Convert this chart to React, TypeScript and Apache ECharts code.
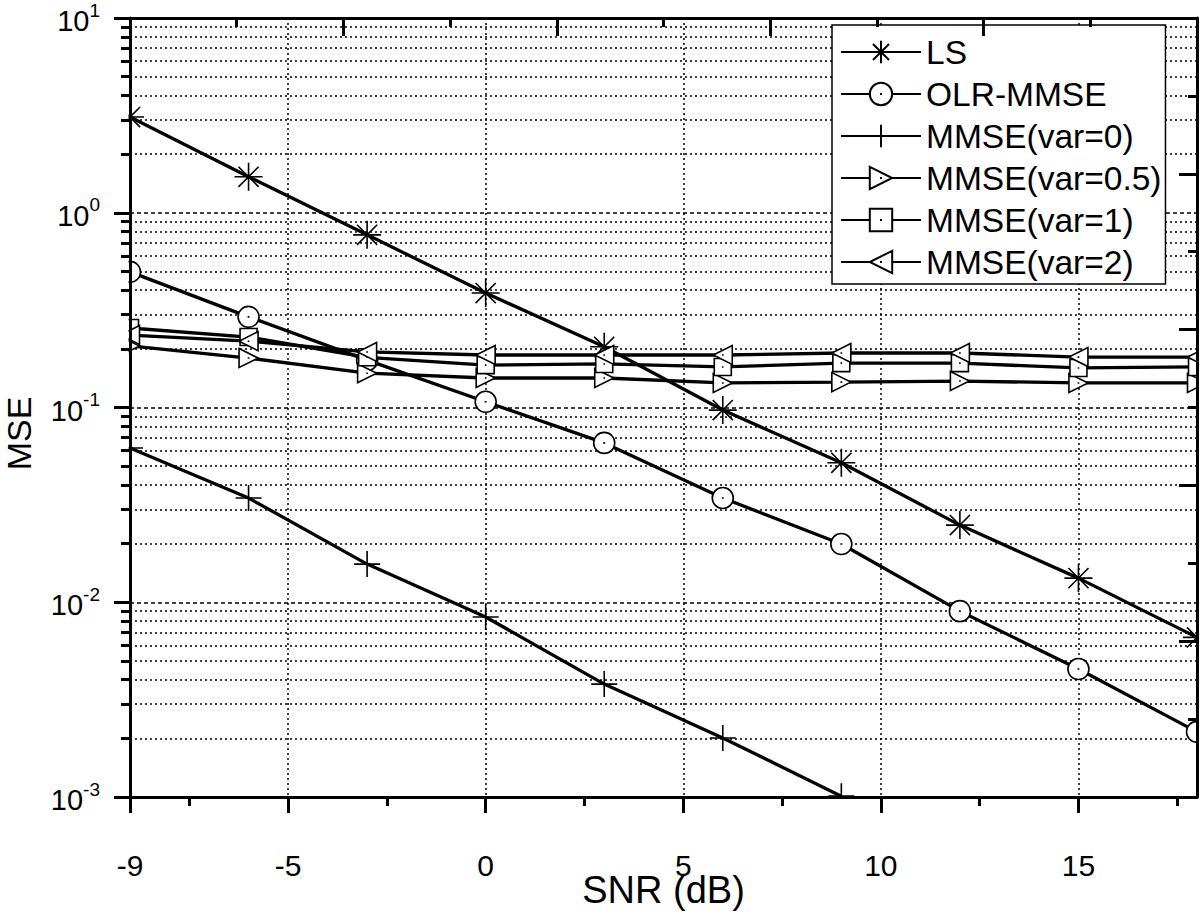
import React, { useEffect, useRef } from "react";
import * as echarts from "echarts";

// ---- data ----
const snr = [-9, -6, -3, 0, 3, 6, 9, 12, 15, 18];
const lsMse = [3.1, 1.53, 0.77, 0.387, 0.205, 0.097, 0.052, 0.0249, 0.0133, 0.0066];
const olrMse = [0.497, 0.292, 0.175, 0.107, 0.0658, 0.0343, 0.0199, 0.009, 0.00454, 0.00216];
const mmseVar0 = [0.0619, 0.0343, 0.0157, 0.0084, 0.0038, 0.00201, 0.00101];
const mmseVar05 = [0.207, 0.1795, 0.15, 0.1417, 0.1417, 0.1337, 0.135, 0.1367, 0.1337, 0.1337];
const mmseVar1 = [0.256, 0.23, 0.181, 0.165, 0.1673, 0.1615, 0.169, 0.169, 0.1596, 0.1615];
const mmseVar2 = [0.2355, 0.219, 0.1928, 0.186, 0.186, 0.186, 0.1905, 0.1905, 0.1815, 0.1815];

const seriesNames = ["LS", "OLR-MMSE", "MMSE(var=0)", "MMSE(var=0.5)", "MMSE(var=1)", "MMSE(var=2)"];

// ---- axis ticks ----
const xMajorTicks = [-9, -5, 0, 5, 10, 15];
const xMinorTicks = [-7.5, -2.5, 2.5, 7.5, 12.5, 17.5];
const xGridTicks = [-5, 0, 5, 10, 15];
const xTopMajor = [-9, -3.6, 1.8, 7.2, 12.6, 18];
const xTopMinor = [-6.3, -0.9, 4.5, 9.9, 15.3];
const yDecades = [-3, -2, -1, 0, 1]; // exponents of 10
const yMinorMultipliers = [2, 3, 4, 5, 6, 7, 8, 9];
const yRightMajor = [-3, -2.2, -1.4, -0.6, 0.2, 1];
const yRightMinor = [-2.6, -1.8, -1, -0.2, 0.6];

const yMinorTicks: number[] = [];
yDecades.slice(0, -1).forEach((d) => yMinorMultipliers.forEach((m) => yMinorTicks.push(d + Math.log10(m))));

const FONT = "'Liberation Sans', Arial, sans-serif";

const DOT = "M-0.09,0L0.09,0";
const SYM_STAR = "path://M0,-1L0,1M-1,0L1,0M-0.72,-0.72L0.72,0.72M-0.72,0.72L0.72,-0.72";
const SYM_PLUS = "path://M0,-1L0,1M-1,0L1,0";
const SYM_CIRCLE = "path://M1,0A1,1,0,1,1,-1,0A1,1,0,1,1,1,0Z" + DOT;
const SYM_RTRI = "path://M-1,-1L1,0L-1,1Z" + DOT;
const SYM_LTRI = "path://M1,-1L-1,0L1,1Z" + DOT;
const SYM_SQUARE = "path://M-1,-1L1,-1L1,1L-1,1Z" + DOT;

const toPoints = (vals: number[]) => vals.map((v, i) => [snr[i], Math.log10(v)]);

const tickStyle = { color: "#000", width: 3 };
const noLine = { show: false, onZero: false };
const mainLine = { show: true, onZero: false, lineStyle: tickStyle };
const hidden = {
  axisLine: noLine,
  axisLabel: { show: false },
  splitLine: { show: false },
};

export default function App() {
  const ref = useRef<HTMLDivElement>(null);
  useEffect(() => {
    if (!ref.current) return;
    const chart = echarts.init(ref.current, undefined, { renderer: "svg" });
    const mkSeries = (name: string, vals: number[], symbol: string, size: number) => ({
      name,
      type: "line",
      data: toPoints(vals),
      symbol,
      symbolSize: size,
      showAllSymbol: true,
      lineStyle: { color: "#000", width: 3.3 },
      itemStyle: { color: "#fff", borderColor: "#000", borderWidth: 1.6 },
      emphasis: { disabled: true },
      z: 2,
    });
    const option: any = {
      animation: false,
      backgroundColor: "#fff",
      textStyle: { fontFamily: FONT, color: "#000" },
      grid: { left: 130, right: 3, top: 18, bottom: 119, outerBoundsMode: "none", containLabel: false },
      legend: {
        left: 832,
        top: 25,
        orient: "vertical",
        itemWidth: 80,
        itemHeight: 28,
        itemGap: 8,
        padding: [10, 4, 5, 8],
        backgroundColor: "#fff",
        borderColor: "#000",
        borderWidth: 1.5,
        selectedMode: false,
        textStyle: { fontSize: 33.5, color: "#000", fontFamily: FONT },
        data: seriesNames,
        z: 4,
      },
      xAxis: [
        {
          type: "value", position: "bottom", min: -9, max: 18, z: 10,
          name: "SNR (dB)", nameLocation: "middle", nameGap: 74, nameMoveOverlap: false,
          nameTextStyle: { fontSize: 38, lineHeight: 38, color: "#000", fontFamily: FONT },
          axisLine: mainLine,
          axisTick: { show: true, inside: false, length: 16, lineStyle: tickStyle, customValues: xMajorTicks },
          axisLabel: {
            show: true, margin: 55, fontSize: 30, lineHeight: 26, color: "#000", fontFamily: FONT,
            customValues: xMajorTicks,
          },
          splitLine: { show: false },
        },
        {
          type: "value", position: "bottom", min: -9, max: 18, z: 10, ...hidden,
          axisTick: { show: true, inside: false, length: 9, lineStyle: tickStyle, customValues: xMinorTicks },
        },
        {
          type: "value", position: "top", min: -9, max: 18, z: 10,
          axisLine: mainLine,
          axisTick: { show: true, inside: true, length: 18, lineStyle: tickStyle, customValues: xTopMajor },
          axisLabel: { show: false },
          splitLine: { show: false },
        },
        {
          type: "value", position: "top", min: -9, max: 18, z: 10, ...hidden,
          axisTick: { show: true, inside: true, length: 9, lineStyle: tickStyle, customValues: xTopMinor },
        },
        {
          type: "value", position: "bottom", min: -9, max: 18, z: 0,
          axisLine: noLine,
          axisLabel: { show: false },
          axisTick: { show: false, customValues: xGridTicks },
          splitLine: { show: true, lineStyle: { color: "#000", width: 1.5, type: [2, 3] } },
        },
      ],
      yAxis: [
        {
          type: "value", position: "left", min: -3, max: 1, z: 10,
          name: "MSE", nameLocation: "middle", nameGap: 94, nameMoveOverlap: false,
          nameTextStyle: { fontSize: 34, color: "#000", fontFamily: FONT, padding: [0, 52, 0, 0] },
          axisLine: mainLine,
          axisTick: { show: true, inside: false, length: 16, lineStyle: tickStyle, customValues: yDecades },
          axisLabel: {
            show: true, margin: 30, customValues: yDecades,
            formatter: (v: number) => "{b|10}{s|" + Math.round(v) + "}",
            rich: {
              b: { fontSize: 29, lineHeight: 35, verticalAlign: "bottom", color: "#000", fontFamily: FONT },
              s: { fontSize: 19, verticalAlign: "top", color: "#000", fontFamily: FONT },
            },
          },
          splitLine: { show: false },
        },
        {
          type: "value", position: "left", min: -3, max: 1, z: 10, ...hidden,
          axisTick: { show: true, inside: false, length: 9, lineStyle: tickStyle, customValues: yMinorTicks },
        },
        {
          type: "value", position: "right", min: -3, max: 1, z: 10,
          axisLine: mainLine,
          axisTick: { show: true, inside: true, length: 18, lineStyle: tickStyle, customValues: yRightMajor },
          axisLabel: { show: false },
          splitLine: { show: false },
        },
        {
          type: "value", position: "right", min: -3, max: 1, z: 10, ...hidden,
          axisTick: { show: true, inside: true, length: 9, lineStyle: tickStyle, customValues: yRightMinor },
        },
        {
          type: "value", position: "left", min: -3, max: 1, z: 0,
          axisLine: noLine,
          axisLabel: { show: false },
          axisTick: { show: false, customValues: yDecades },
          splitLine: { show: true, lineStyle: { color: "#000", width: 1.5, type: [4, 3] } },
        },
        {
          type: "value", position: "left", min: -3, max: 1, z: 0,
          axisLine: noLine,
          axisLabel: { show: false },
          axisTick: { show: false, customValues: yMinorTicks },
          splitLine: { show: true, lineStyle: { color: "#000", width: 1.5, type: [2, 3] } },
        },
      ],
      graphic: [
        { type: "rect", z: 5, silent: true, shape: { x: 0, y: 0, width: 128.5, height: 916 }, style: { fill: "#fff" } },
        { type: "rect", z: 5, silent: true, shape: { x: 1198.5, y: 0, width: 20, height: 916 }, style: { fill: "#fff" } },
        { type: "rect", z: 5, silent: true, shape: { x: 0, y: 0, width: 1200, height: 16.5 }, style: { fill: "#fff" } },
        { type: "rect", z: 5, silent: true, shape: { x: 0, y: 798.5, width: 1200, height: 200 }, style: { fill: "#fff" } },
      ],
      series: [
        mkSeries(seriesNames[0], lsMse, SYM_STAR, 28),
        mkSeries(seriesNames[1], olrMse, SYM_CIRCLE, 21),
        mkSeries(seriesNames[2], mmseVar0, SYM_PLUS, 26),
        mkSeries(seriesNames[3], mmseVar05, SYM_RTRI, 19),
        mkSeries(seriesNames[4], mmseVar1, SYM_SQUARE, 17),
        mkSeries(seriesNames[5], mmseVar2, SYM_LTRI, 19),
      ],
    };
    chart.setOption(option);
    return () => chart.dispose();
  }, []);
  return <div ref={ref} style={{ position: "absolute", left: 0, top: 0, width: 1200, height: 916 }} />;
}
